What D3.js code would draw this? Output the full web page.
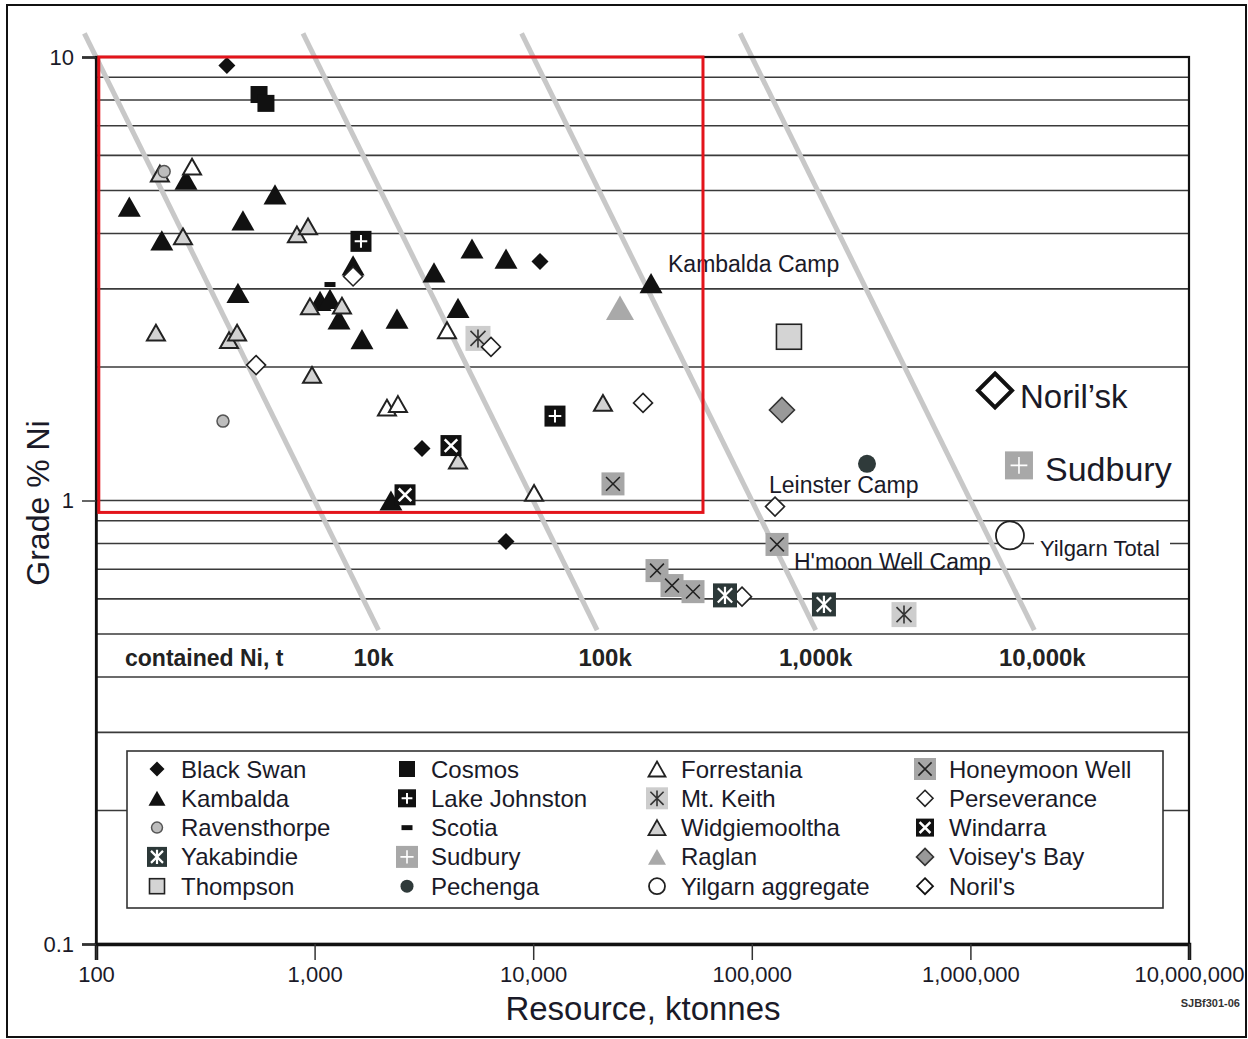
<!DOCTYPE html>
<html>
<head>
<meta charset="utf-8">
<script src="https://cdn.jsdelivr.net/npm/d3@7"></script>
<style>
  body { margin: 0; background: #fff; }
  text { font-family: "Liberation Sans", Arial, sans-serif; fill: #1a1a28; }
</style>
</head>
<body>
<script>
// axis ticks
var resourceTicks = [100, 1000, 10000, 100000, 1000000, 10000000];
var gradeTicks = [0.1, 1, 10];
var gradeGrid = [0.2, 0.3, 0.4, 0.5, 0.6, 0.7, 0.8, 0.9, 1, 2, 3, 4, 5, 6, 7, 8, 9];

// contained Ni lines (t) and their labels
var niLines = [10000, 100000, 1000000, 10000000];
var niLabels = ["10k", "100k", "1,000k", "10,000k"];

// deposits: [resource ktonnes, grade % Ni]
var blackSwan = [[397, 9.57], [10740, 3.46], [3100, 1.31], [7510, 0.808]];
var cosmos = [[557, 8.23], [599, 7.86]];
var kambalda = [[142, 4.6], [258, 5.29], [659, 4.9], [200, 3.86], [470, 4.28], [1500, 3.39],
  [446, 2.94], [1059, 2.82], [1176, 2.85], [1293, 2.56], [1647, 2.31], [2382, 2.57],
  [3517, 3.27], [5248, 3.7], [7510, 3.51], [4529, 2.72], [34600, 3.09], [2235, 1.0]];
var ravensthorpe = [[205, 5.52], [381, 1.51]];
var yakabindie = [[75400, 0.611], [213800, 0.583]];
var thompson = [[147900, 2.34]];
var lakeJohnston = [[1630, 3.84], [12580, 1.55]];
var scotia = [[1176, 3.07]];
var sudbury = [[1668000, 1.2]];
var pechenga = [[336500, 1.21]];
var forrestania = [[275, 5.66], [2143, 1.62], [2406, 1.65], [4033, 2.42], [10090, 1.04]];
var mtKeith = [[5590, 2.32], [496900, 0.553]];
var widgiemooltha = [[196, 5.46], [250, 3.94], [830, 3.98], [933, 4.15], [188, 2.39], [406, 2.3],
  [442, 2.39], [973, 1.92], [952, 2.74], [1334, 2.75], [4529, 1.23], [20850, 1.66]];
var raglan = [[24950, 2.72]];
var yilgarn = [[1517000, 0.834]];
var honeymoonWell = [[23170, 1.09], [130400, 0.796], [36840, 0.695], [43150, 0.643], [53830, 0.623]];
var perseverance = [[540, 2.02], [1500, 3.2], [6410, 2.22], [31800, 1.66], [127700, 0.969], [90200, 0.607]];
var windarra = [[4207, 1.33], [2592, 1.03]];
var voiseysBay = [[137400, 1.6]];
var norilsk = [[1296000, 1.77]];

var w = 1248;
var h = 1039;

var svg = d3.select("body").append("svg")
  .attr("width", w)
  .attr("height", h);

var x = d3.scaleLog().domain([100, 10000000]).range([96, 1189]);
var y = d3.scaleLog().domain([0.1, 10]).range([944, 57]);

// outer frame
svg.append("rect")
  .attr("x", 7).attr("y", 5).attr("width", 1239).attr("height", 1032)
  .attr("fill", "none").attr("stroke", "#111").attr("stroke-width", 2);

// horizontal grid
svg.append("g").selectAll("line")
  .data(gradeGrid)
  .enter().append("line")
  .attr("x1", x(100)).attr("x2", x(10000000))
  .attr("y1", function(d) { return y(d); })
  .attr("y2", function(d) { return y(d); })
  .attr("stroke", "#3a3a3a").attr("stroke-width", 1.6);

// contained Ni lines
var gradeTop = 11.3, gradeEnd = 0.51;
svg.append("g").selectAll("line")
  .data(niLines)
  .enter().append("line")
  .attr("x1", function(d) { return x(d / (10 * gradeTop)); })
  .attr("y1", y(gradeTop))
  .attr("x2", function(d) { return x(d / (10 * gradeEnd)); })
  .attr("y2", y(gradeEnd))
  .attr("stroke", "#c8c8c8").attr("stroke-width", 5);

svg.append("text")
  .attr("x", 125).attr("y", 666)
  .attr("font-size", 23).attr("font-weight", "bold")
  .style("fill", "#222")
  .text("contained Ni, t");

svg.append("g").selectAll("text")
  .data(niLines)
  .enter().append("text")
  .attr("x", function(d, i) { return x(d / (10 * gradeEnd)) + [-5, 8, 0, 8][i]; })
  .attr("y", 666)
  .attr("text-anchor", "middle")
  .attr("font-size", 24).attr("font-weight", "bold")
  .style("fill", "#222")
  .text(function(d, i) { return niLabels[i]; });

// plot border
svg.append("rect")
  .attr("x", x(100)).attr("y", y(10))
  .attr("width", x(10000000) - x(100)).attr("height", y(0.1) - y(10))
  .attr("fill", "none").attr("stroke", "#111").attr("stroke-width", 2.2);

// axes
var xAxis = d3.axisBottom(x)
  .tickValues(resourceTicks)
  .tickFormat(d3.format(","))
  .tickSize(16)
  .tickPadding(6);
var gx = svg.append("g")
  .attr("transform", "translate(0," + y(0.1) + ")")
  .call(xAxis);
gx.select(".domain").attr("stroke", "#111").attr("stroke-width", 3.5);
gx.selectAll(".tick line").attr("stroke", "#333").attr("stroke-width", 1.5);
gx.selectAll("text").attr("font-size", 22).style("fill", "#1a1a28")
  .attr("font-family", "Liberation Sans, Arial, sans-serif");

var yAxis = d3.axisLeft(y)
  .tickValues(gradeTicks)
  .tickFormat(function(d) { return d === 0.1 ? "0.1" : String(d); })
  .tickSize(14)
  .tickPadding(8);
var gy = svg.append("g")
  .attr("transform", "translate(" + x(100) + ",0)")
  .call(yAxis);
gy.select(".domain").attr("stroke", "#111").attr("stroke-width", 2.5);
gy.selectAll(".tick line").attr("stroke", "#333").attr("stroke-width", 1.5);
gy.selectAll("text").attr("font-size", 22).style("fill", "#1a1a28")
  .attr("font-family", "Liberation Sans, Arial, sans-serif");

svg.append("text")
  .attr("transform", "translate(49,503) rotate(-90)")
  .attr("text-anchor", "middle")
  .attr("font-size", 32)
  .text("Grade % Ni");

svg.append("text")
  .attr("x", 643).attr("y", 1020)
  .attr("text-anchor", "middle")
  .attr("font-size", 33)
  .text("Resource, ktonnes");

svg.append("text")
  .attr("x", 1240).attr("y", 1007)
  .attr("text-anchor", "end")
  .attr("font-size", 11).attr("font-weight", "bold")
  .style("fill", "#333")
  .text("SJBf301-06");

// marker drawing
function drawMarker(g, s, size) {
  var hs = size / 2;
  var m;
  if (s.shape == "diamond") {
    m = g.append("path").attr("d", "M0," + (-hs) + "L" + hs + ",0L0," + hs + "L" + (-hs) + ",0Z");
  } else if (s.shape == "square") {
    m = g.append("rect").attr("x", -hs).attr("y", -hs).attr("width", size).attr("height", size);
  } else if (s.shape == "triangle") {
    var th = size * 0.88;
    m = g.append("path").attr("d", "M0," + (-th / 2) + "L" + hs + "," + (th / 2) + "L" + (-hs) + "," + (th / 2) + "Z");
  } else if (s.shape == "circle") {
    m = g.append("circle").attr("r", hs);
  } else if (s.shape == "bar") {
    m = g.append("rect").attr("x", -hs).attr("y", -size * 0.22).attr("width", size).attr("height", size * 0.45);
  }
  m.attr("fill", s.fill)
    .attr("stroke", s.stroke || "none")
    .attr("stroke-width", s.sw || 0)
    .attr("stroke-linejoin", "miter");
  if (s.glyph) {
    var a = size * 0.3;
    var d = "";
    if (s.glyph == "plus") d = "M" + (-a) + ",0H" + a + "M0," + (-a) + "V" + a;
    if (s.glyph == "x") d = "M" + (-a) + "," + (-a) + "L" + a + "," + a + "M" + a + "," + (-a) + "L" + (-a) + "," + a;
    if (s.glyph == "ast") d = "M" + (-a) + "," + (-a) + "L" + a + "," + a + "M" + a + "," + (-a) + "L" + (-a) + "," + a + "M0," + (-a * 1.2) + "V" + (a * 1.2);
    g.append("path").attr("d", d)
      .attr("stroke", s.gc).attr("stroke-width", s.gw).attr("fill", "none");
  }
}

var series = [
  {name: "Black Swan", data: blackSwan, shape: "diamond", fill: "#111", size: 17, ls: 15},
  {name: "Kambalda", data: kambalda, shape: "triangle", fill: "#111", size: 23, ls: 17},
  {name: "Ravensthorpe", data: ravensthorpe, shape: "circle", fill: "#bdbdbd", stroke: "#555", sw: 1.5, size: 12, ls: 11},
  {name: "Yakabindie", data: yakabindie, shape: "square", fill: "#2c3838", glyph: "ast", gc: "#fff", gw: 2.2, size: 24, ls: 20},
  {name: "Thompson", data: thompson, shape: "square", fill: "#d4d4d4", stroke: "#222", sw: 1.6, size: 25, ls: 15},
  {name: "Cosmos", data: cosmos, shape: "square", fill: "#111", size: 17, ls: 16},
  {name: "Lake Johnston", data: lakeJohnston, shape: "square", fill: "#111", glyph: "plus", gc: "#fff", gw: 2, size: 21, ls: 18},
  {name: "Scotia", data: scotia, shape: "bar", fill: "#111", size: 11, ls: 11},
  {name: "Sudbury", data: sudbury, shape: "square", fill: "#a8a8a8", glyph: "plus", gc: "#fff", gw: 1.6, size: 28, ls: 22},
  {name: "Pechenga", data: pechenga, shape: "circle", fill: "#2f3a3a", size: 18, ls: 13},
  {name: "Forrestania", data: forrestania, shape: "triangle", fill: "#fff", stroke: "#222", sw: 2, size: 18, ls: 17},
  {name: "Mt. Keith", data: mtKeith, shape: "square", fill: "#cdcdcd", glyph: "ast", gc: "#333", gw: 1.6, size: 25, ls: 22},
  {name: "Widgiemooltha", data: widgiemooltha, shape: "triangle", fill: "#d2d2d2", stroke: "#222", sw: 2, size: 18, ls: 17},
  {name: "Raglan", data: raglan, shape: "triangle", fill: "#a9a9a9", size: 28, ls: 18},
  {name: "Yilgarn aggregate", data: yilgarn, shape: "circle", fill: "#fff", stroke: "#222", sw: 1.8, size: 28, ls: 16},
  {name: "Honeymoon Well", data: honeymoonWell, shape: "square", fill: "#a6a6a6", glyph: "x", gc: "#222", gw: 1.6, size: 23, ls: 22},
  {name: "Perseverance", data: perseverance, shape: "diamond", fill: "#fff", stroke: "#222", sw: 1.6, size: 19, ls: 16},
  {name: "Windarra", data: windarra, shape: "square", fill: "#111", glyph: "x", gc: "#fff", gw: 2.5, size: 21, ls: 18},
  {name: "Voisey's Bay", data: voiseysBay, shape: "diamond", fill: "#999", stroke: "#333", sw: 1.6, size: 25, ls: 17},
  {name: "Noril'sk", data: norilsk, shape: "diamond", fill: "#fff", stroke: "#111", sw: 4, size: 34, ls: 16}
];

function byName(n) {
  return series.filter(function(s) { return s.name == n; })[0];
}

// annotation labels
var labels = [
  {text: "Kambalda Camp", x: 668, y: 272, size: 23},
  {text: "Leinster Camp", x: 769, y: 493, size: 23},
  {text: "H'moon Well Camp", x: 794, y: 570, size: 23},
  {text: "Noril\u2019sk", x: 1020, y: 408, size: 33},
  {text: "Sudbury", x: 1045, y: 481, size: 34}
];

svg.append("rect")
  .attr("x", 1034).attr("y", 532).attr("width", 136).attr("height", 28)
  .attr("fill", "#fff");
svg.append("text")
  .attr("x", 1040).attr("y", 556)
  .attr("font-size", 22)
  .text("Yilgarn Total");

svg.append("g").selectAll("text")
  .data(labels)
  .enter().append("text")
  .attr("x", function(d) { return d.x; })
  .attr("y", function(d) { return d.y; })
  .attr("font-size", function(d) { return d.size; })
  .text(function(d) { return d.text; });

// draw order for plot
var drawOrder = ["Black Swan", "Cosmos", "Kambalda", "Widgiemooltha", "Forrestania", "Ravensthorpe",
  "Lake Johnston", "Scotia", "Mt. Keith", "Perseverance", "Windarra", "Honeymoon Well", "Yakabindie",
  "Raglan", "Thompson", "Voisey's Bay", "Pechenga", "Sudbury", "Noril'sk", "Yilgarn aggregate"];

var pts = svg.append("g");
drawOrder.forEach(function(n) {
  var s = byName(n);
  s.data.forEach(function(d) {
    var g = pts.append("g").attr("transform", "translate(" + x(d[0]) + "," + y(d[1]) + ")");
    drawMarker(g, s, s.size);
  });
});

// legend
var legendCols = [
  ["Black Swan", "Kambalda", "Ravensthorpe", "Yakabindie", "Thompson"],
  ["Cosmos", "Lake Johnston", "Scotia", "Sudbury", "Pechenga"],
  ["Forrestania", "Mt. Keith", "Widgiemooltha", "Raglan", "Yilgarn aggregate"],
  ["Honeymoon Well", "Perseverance", "Windarra", "Voisey's Bay", "Noril's"]
];
var colX = [157, 407, 657, 925];

var legend = svg.append("g");
legend.append("rect")
  .attr("x", 127).attr("y", 751).attr("width", 1036).attr("height", 157)
  .attr("fill", "#fff").attr("stroke", "#333").attr("stroke-width", 1.6);

legendCols.forEach(function(col, ci) {
  col.forEach(function(n, ri) {
    var s = byName(n == "Noril's" ? "Noril'sk" : n);
    var cy = 769 + ri * 29.3;
    var g = legend.append("g").attr("transform", "translate(" + colX[ci] + "," + cy + ")");
    var ls = Object.assign({}, s, {sw: s.sw ? Math.min(s.sw, 1.8) : 0});
    drawMarker(g, ls, s.ls);
    legend.append("text")
      .attr("x", colX[ci] + 24).attr("y", cy + 8.5)
      .attr("font-size", 24)
      .text(n);
  });
});

// red highlight box
svg.append("rect")
  .attr("x", x(103)).attr("y", y(10))
  .attr("width", x(59800) - x(103))
  .attr("height", y(0.94) - y(10))
  .attr("fill", "none").attr("stroke", "#e3141b").attr("stroke-width", 3);
</script>
</body>
</html>
